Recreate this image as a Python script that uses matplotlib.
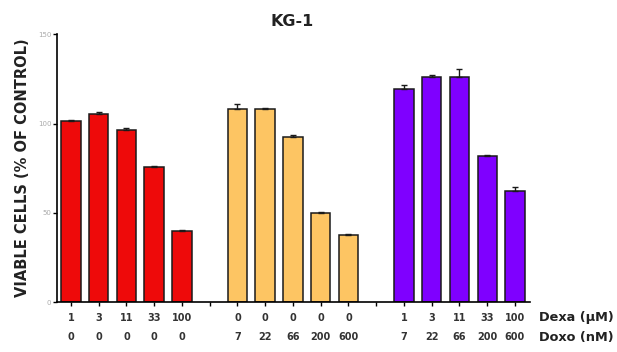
import matplotlib
matplotlib.use("Agg")
import matplotlib.pyplot as plt
import numpy as np

dexa = ["1", "3", "11", "33", "100", "", "0", "0", "0", "0", "0", "", "1", "3", "11", "33", "100"]
doxo = ["0", "0", "0", "0", "0", "", "7", "22", "66", "200", "600", "", "7", "22", "66", "200", "600"]

red_vals = [101.5, 105.5, 96.5, 75.5, 40]
red_err = [0.8, 1.0, 1.0, 0.6, 0.6]
orange_vals = [108.5, 108.5, 92.5, 50, 37.5]
orange_err = [2.5, 0.5, 1.0, 0.6, 0.6]
purple_vals = [119.5, 126, 126, 82, 62]
purple_err = [2.0, 1.5, 4.5, 0.6, 2.5]

red_pos = [0, 1, 2, 3, 4]
orange_pos = [6, 7, 8, 9, 10]
purple_pos = [12, 13, 14, 15, 16]

fig = plt.figure(figsize=(6.17, 3.52), dpi=100)
ax = fig.add_axes([0.0924, 0.142, 0.767, 0.76])

common = dict(width=0.7, edgecolor="#1a1a1a", linewidth=1.1,
              error_kw=dict(ecolor="#1a1a1a", elinewidth=1.0, capsize=2.5, capthick=1.0))
ax.bar(red_pos, red_vals, yerr=[np.zeros(5), red_err], color="#ee0a0a", **common)
ax.bar(orange_pos, orange_vals, yerr=[np.zeros(5), orange_err], color="#fdc563", **common)
ax.bar(purple_pos, purple_vals, yerr=[np.zeros(5), purple_err], color="#7f00ff", **common)

ax.set_xlim(-0.5, 16.55)
ax.set_ylim(0, 150)
ax.spines["top"].set_visible(False)
ax.spines["right"].set_visible(False)
ax.spines["left"].set_linewidth(1.2)
ax.spines["bottom"].set_linewidth(1.2)

ax.set_yticks([0, 50, 100, 150])
ax.set_yticklabels(["0", "50", "100", "150"], fontsize=5, color="#aaaaaa")
ax.tick_params(axis="y", length=3, width=1, pad=1)

ax.set_xticks(range(17))
ax.set_xticklabels([])
ax.tick_params(axis="x", length=3, width=1)

trans = ax.get_xaxis_transform()
for i in range(17):
    ax.text(i, -0.06, dexa[i], transform=trans, ha="center", va="center",
            fontsize=7, fontweight="bold", color="#333333")
    ax.text(i, -0.13, doxo[i], transform=trans, ha="center", va="center",
            fontsize=7, fontweight="bold", color="#333333")

fig.text(0.874, 1 - 318 / 352, "Dexa (\u00b5M)", ha="left", va="center",
         fontsize=9.3, fontweight="bold", color="#222222")
fig.text(0.874, 1 - 337 / 352, "Doxo (nM)", ha="left", va="center",
         fontsize=9.3, fontweight="bold", color="#222222")

fig.text(23 / 617, 1 - 168 / 352, "VIABLE CELLS (% OF CONTROL)", rotation=90,
         ha="center", va="center", fontsize=10.5, fontweight="bold", color="#222222")
fig.text(0.474, 1 - 22 / 352, "KG-1", ha="center", va="center",
         fontsize=11.5, fontweight="bold", color="#222222")

fig.savefig("out.png", dpi=100)
